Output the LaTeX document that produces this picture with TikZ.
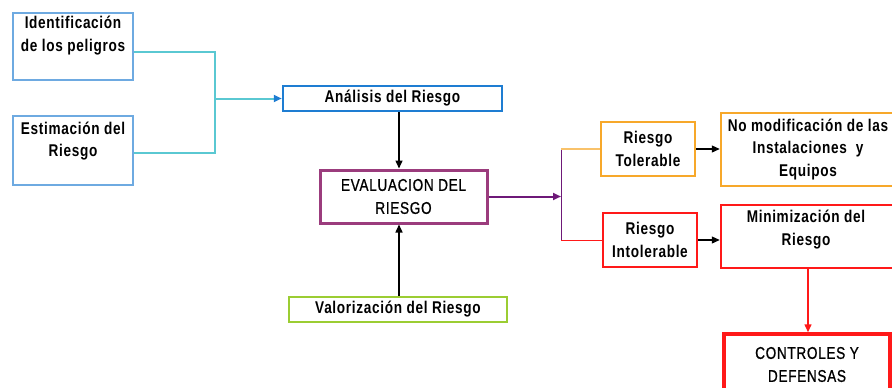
\documentclass[tikz,border=0pt]{standalone}
\usepackage{fontspec}
\setmainfont[FakeStretch=0.8,LetterSpace=4]{Liberation Sans}
\newfontfamily\medfont[FakeStretch=0.8,LetterSpace=4,FakeBold=0.8]{Liberation Sans}
\usetikzlibrary{arrows.meta}
\definecolor{lblue}{RGB}{110,170,225}
\definecolor{cyanc}{RGB}{90,200,210}
\definecolor{blueb}{RGB}{30,125,210}
\definecolor{purpb}{RGB}{155,60,125}
\definecolor{purpa}{RGB}{110,25,120}
\definecolor{greenb}{RGB}{155,205,50}
\definecolor{orangeb}{RGB}{247,168,42}
\definecolor{redb}{RGB}{255,25,25}
\begin{document}
\begin{tikzpicture}[x=1pt,y=-1pt,
  box/.style={draw,rectangle,inner sep=0pt,align=center,font=\bfseries\fontsize{17}{22.5}\selectfont},
  txt/.style={inner sep=0pt,align=center,font=\bfseries\fontsize{17}{22.5}\selectfont},
  medtxt/.style={font=\medfont\fontsize{17}{23}\selectfont},
  tip/.style={-{Triangle[length=8pt,width=7pt]}}]
\useasboundingbox (0,0) rectangle (892,388);
% left boxes
\node[box,lblue,line width=1.5pt,minimum width=120,minimum height=67] (ident) at (73,46.5) {};
\node[txt] (identT) at (73,35.5) {Identificación\\de los peligros};
\node[box,lblue,line width=1.5pt,minimum width=120,minimum height=69] (estim) at (73,150.5) {};
\node[txt] (estimT) at (73,141) {Estimación del\\Riesgo};
% analysis
\node[box,blueb,line width=2.5pt,minimum width=219,minimum height=25,text=black] (anal) at (392.5,98.5) {Análisis del Riesgo};
\node[box,purpb,line width=3pt,minimum width=167,minimum height=53,text=black,medtxt] (eval) at (403.5,196.5) {EVALUACION DEL\\RIESGO};
\node[box,greenb,line width=2.5pt,minimum width=218,minimum height=25,text=black] (valor) at (398,309.5) {Valorización del Riesgo};
% right side
\node[box,orangeb,line width=2.5pt,minimum width=94,minimum height=54,text=black] (tol) at (648,149) {Riesgo\\Tolerable};
\node[box,orangeb,line width=2.5pt,minimum width=174,minimum height=73,text=black] (nomod) at (808,149.5) {No modificación de las\\Instalaciones \ y\\Equipos};
\node[box,redb,line width=2.5pt,minimum width=94,minimum height=54,text=black] (intol) at (650,240) {Riesgo\\Intolerable};
\node[box,redb,line width=2.5pt,minimum width=174,minimum height=63] (minim) at (808,236.5) {};
\node[txt] (minimT) at (806,229.5) {Minimización del\\Riesgo};
\node[box,redb,line width=3.5pt,minimum width=166,minimum height=61,text=black,medtxt] (contr) at (807,364.5) {CONTROLES Y\\DEFENSAS};
% junctions
\coordinate (j1) at (215,52);
\coordinate (j2) at (215,153);
\coordinate (jm) at (215,98.5);
\coordinate (jp) at (561,196.5);
\coordinate (bt) at (561,149);
\coordinate (bb) at (561,240);
% connectors
\draw[cyanc,line width=2pt] ([yshift=-5.5pt]ident.east) -- (j1) -- (j2) -- ([yshift=-2.5pt]estim.east);
\draw[cyanc,line width=2pt,-{Triangle[length=8pt,width=7pt,color=blueb]}] (jm) -- (anal.west);
\draw[black,line width=1.5pt,tip] ([xshift=6.5pt]anal.south) -- ([xshift=-4.5pt]eval.north);
\draw[black,line width=1.5pt,tip] ([xshift=1pt]valor.north) -- ([xshift=-4.5pt]eval.south);
\draw[purpa,line width=2pt,tip] (eval.east) -- (jp);
\draw[purpa,line width=1pt] (bt) -- (bb);
\draw[orangeb!70,line width=1.5pt] (bt) -- (tol.west);
\draw[redb,line width=1pt] (bb) -- (intol.west);
\draw[black,line width=1.2pt,tip] (tol.east) -- (tol.east -| nomod.west);
\draw[black,line width=1.2pt,tip] (intol.east) -- (intol.east -| minim.west);
\draw[redb,line width=1.5pt,tip] (minim.south) -- (minim.south |- contr.north);
\end{tikzpicture}
\end{document}
